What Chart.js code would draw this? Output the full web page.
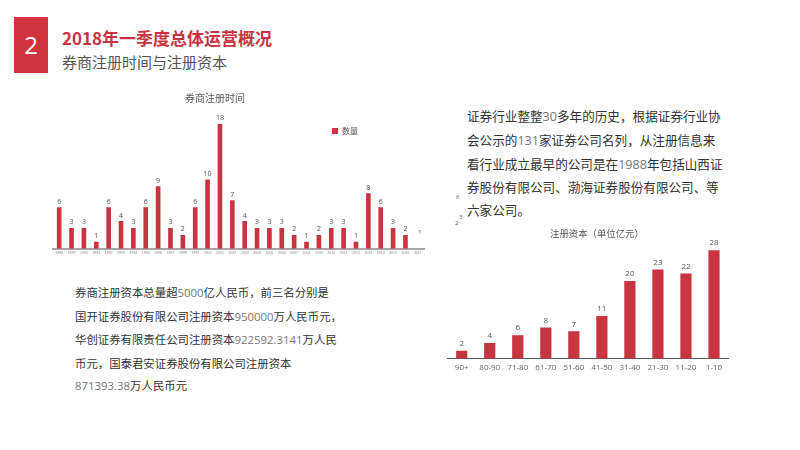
<!DOCTYPE html>
<html><head><meta charset="utf-8">
<script src="https://cdn.jsdelivr.net/npm/chart.js@4.4.0/dist/chart.umd.min.js"></script>
<style>
html,body{margin:0;padding:0;background:#fff;}
body{width:800px;height:450px;position:relative;overflow:hidden;font-family:"Noto Sans CJK SC","Noto Sans",sans-serif;}
#box{position:absolute;left:14px;top:17px;width:34px;height:56px;background:#d0353f;color:#fff;font:24px "Open Sans","Noto Sans",sans-serif;text-align:center;line-height:56px;}
#title{position:absolute;left:62px;top:25px;font-size:17px;font-weight:bold;color:#c8333f;white-space:nowrap;}
#sub{position:absolute;left:62px;top:51px;font-size:15px;color:#555;white-space:nowrap;}
.para{position:absolute;color:#333;white-space:nowrap;}
.para .n{color:#777;font-family:"Open Sans","Noto Sans",sans-serif;}
#p1{left:467px;top:105px;font-size:12.6px;line-height:22.8px;}
#p2{left:75px;top:281px;font-size:11.4px;line-height:22.6px;}
.stray{position:absolute;font-size:6px;color:#555;font-family:"Open Sans",sans-serif;}
.ct{position:absolute;color:#595959;white-space:nowrap;transform:translateX(-50%);line-height:1;}
#t1{left:215px;top:93px;font-size:10px;}
#t2{left:597px;top:229px;font-size:9.4px;}
#leg{position:absolute;left:332px;top:125px;font-size:8px;color:#555;white-space:nowrap;}
#leg i{display:inline-block;width:6px;height:6px;background:#c8343f;margin-right:4px;vertical-align:-0px;}
#c1{position:absolute;left:40px;top:88px;}
#c2{position:absolute;left:437px;top:222px;}
</style></head><body>
<div id="box">2</div>
<div id="title">2018年一季度总体运营概况</div>
<div id="sub">券商注册时间与注册资本</div>
<div class="para" id="p1">证券行业整整<span class="n">30</span>多年的历史，根据证券行业协<br>会公示的<span class="n">131</span>家证券公司名列，从注册信息来<br>看行业成立最早的公司是在<span class="n">1988</span>年包括山西证<br>券股份有限公司、渤海证券股份有限公司、等<br>六家公司。</div>
<div class="para" id="p2">券商注册资本总量超<span class="n">5000</span>亿人民币，前三名分别是<br>国开证券股份有限公司注册资本<span class="n">950000</span>万人民币元，<br>华创证券有限责任公司注册资本<span class="n">922592.3141</span>万人民<br>币元，国泰君安证券股份有限公司注册资本<br><span class="n">871393.38</span>万人民币元</div>
<div class="stray" style="left:456px;top:193px;">6</div>
<div class="stray" style="left:459px;top:213px;">3</div>
<div class="stray" style="left:455px;top:219px;">2</div>
<div class="stray" style="left:418px;top:228px;">1</div>
<canvas id="c1" width="400" height="169"></canvas>
<canvas id="c2" width="310" height="156"></canvas>
<div class="ct" id="t1">券商注册时间</div>
<div class="ct" id="t2">注册资本（单位亿元）</div>
<div id="leg"><i></i>数量</div>
<script>
const years = ["1988","1989","1990","1991","1992","1993","1994","1995","1996","1997","1998","1999","2000","2001","2002","2003","2004","2005","2006","2007","2008","2009","2010","2011","2012","2013","2014","2015","2016","2017"];
const counts = [6,3,3,1,6,4,3,6,9,3,2,6,10,18,7,4,3,3,3,2,1,2,3,3,1,8,6,3,2,null];
const capCats = ["90+","80-90","71-80","61-70","51-60","41-50","31-40","21-30","11-20","1-10"];
const capCounts = [2,4,6,8,7,11,20,23,22,28];

const RED = "#c8343f";
const valueLabels = {
  id:"valueLabels",
  afterDatasetsDraw(chart, args, opts){
    const ctx = chart.ctx;
    const meta = chart.getDatasetMeta(0);
    ctx.save();
    ctx.fillStyle = "#555";
    ctx.font = opts.size + "px 'Open Sans', sans-serif";
    ctx.textAlign = "center";
    ctx.textBaseline = "bottom";
    meta.data.forEach((bar,i)=>{
      const v = chart.data.datasets[0].data[i];
      if(v==null) return;
      ctx.fillText(String(v), bar.x, bar.y - opts.gap);
    });
    ctx.restore();
  }
};

new Chart(document.getElementById("c1"), {
  type:"bar",
  data:{labels:years, datasets:[{label:"数量", data:counts, backgroundColor:RED, barPercentage:0.75, categoryPercentage:0.5}]},
  options:{
    responsive:false, animation:false,
    layout:{padding:{left:13,right:16,top:22,bottom:0}},
    plugins:{
      legend:{display:false},
      tooltip:{enabled:false},
      title:{display:false},
      valueLabels:{size:7, gap:2}
    },
    scales:{
      x:{grid:{display:false, drawTicks:false}, border:{color:"#a6a6a6", width:2},
         ticks:{font:{size:3.5}, color:"#888", autoSkip:false, maxRotation:0, minRotation:0, padding:2}},
      y:{display:false, min:0, max:20}
    }
  },
  plugins:[valueLabels]
});

new Chart(document.getElementById("c2"), {
  type:"bar",
  data:{labels:capCats, datasets:[{label:"注册资本", data:capCounts, backgroundColor:RED, barPercentage:0.8, categoryPercentage:0.5}]},
  options:{
    responsive:false, animation:false,
    layout:{padding:{left:10.7,right:19,top:22.8,bottom:0}},
    plugins:{
      legend:{display:false},
      tooltip:{enabled:false},
      title:{display:false},
      valueLabels:{size:8, gap:3}
    },
    scales:{
      x:{grid:{display:false, drawTicks:false}, border:{color:"#595959", width:1},
         ticks:{font:{size:8, family:"Open Sans"}, color:"#666", autoSkip:false, maxRotation:0, minRotation:0, padding:5}},
      y:{display:false, min:0, max:29.4}
    }
  },
  plugins:[valueLabels]
});
</script>
</body></html>
